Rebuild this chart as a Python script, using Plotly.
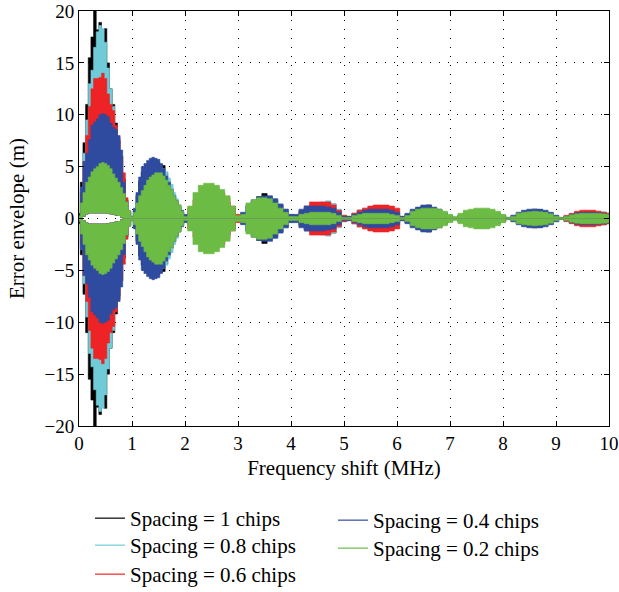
import numpy as np
import plotly.graph_objects as go

# Sampling grid of the frequency axis (MHz)
freq_a = np.round(np.arange(0, 2.0001, 0.05), 2)      # 0.00 .. 2.00 (41 points)
freq_b = np.round(np.arange(2.1, 10.0001, 0.1), 2)     # 2.1 .. 10.0 (80 points)
freq = list(freq_a) + list(freq_b)

# Error envelope amplitude (m) (symmetric about zero)
env_1_0 = [0.5, 3.5, 7.3, 11.0, 15.5, 17.5, 20.0, 18.2, 18.9, 18.0, 18.3, 15.0, 12.5, 11.0, 9.2, 7.5, 6.0, 3.8, 1.8, 0.7, 0.2,
           0.8, 2.2, 3.6, 4.5, 5.0, 5.2, 5.4, 5.5, 5.5, 5.4, 5.2, 5.1, 4.4, 3.6, 2.9, 2.2, 1.6, 1.1, 0.6, 0.3,
           0.5, 1.0, 1.5, 2.0, 2.2, 2.2, 2.0, 1.6, 1.0, 0.3,
           0.5, 1.2, 1.7, 2.1, 2.4, 2.1, 1.8, 1.3, 0.8, 0.3,
           0.2, 0.6, 1.0, 1.3, 1.4, 1.5, 1.5, 1.4, 0.8, 0.3,
           0.2, 0.5, 0.8, 0.9, 1.0, 1.0, 1.0, 1.0, 0.9, 0.7,
           0.2, 0.4, 0.8, 1.0, 1.2, 1.3, 1.0, 0.8, 0.5, 0.2,
           0.1, 0.3, 0.5, 0.6, 0.7, 0.7, 0.7, 0.6, 0.5, 0.3,
           0.1, 0.3, 0.5, 0.7, 0.8, 0.9, 0.85, 0.7, 0.5, 0.3,
           0.1, 0.2, 0.4, 0.55, 0.6, 0.65, 0.7, 0.6, 0.6, 0.5]

env_0_8 = [0.3, 3.0, 6.3, 9.5, 13.0, 14.3, 16.5, 18.0, 18.6, 18.3, 17.0, 14.5, 12.5, 10.8, 8.8, 7.2, 5.6, 3.6, 1.7, 0.6, 0.2,
           0.5, 1.5, 2.5, 3.2, 3.8, 4.2, 4.5, 4.7, 4.8, 4.9, 4.9, 4.8, 4.5, 3.9, 3.3, 2.5, 1.9, 1.3, 0.7, 0.2,
           0.5, 1.0, 1.5, 1.9, 2.1, 2.1, 1.9, 1.5, 0.9, 0.3,
           0.5, 1.2, 1.7, 2.0, 2.1, 2.1, 1.9, 1.4, 0.9, 0.4,
           0.3, 0.8, 1.2, 1.4, 1.5, 1.6, 1.7, 1.4, 0.9, 0.3,
           0.2, 0.5, 0.8, 1.0, 1.1, 1.2, 1.2, 1.2, 1.1, 0.9,
           0.2, 0.4, 0.8, 1.0, 1.1, 1.2, 1.0, 0.8, 0.5, 0.2,
           0.1, 0.3, 0.5, 0.6, 0.7, 0.7, 0.7, 0.6, 0.5, 0.3,
           0.1, 0.3, 0.5, 0.7, 0.8, 0.85, 0.8, 0.7, 0.5, 0.3,
           0.1, 0.3, 0.45, 0.6, 0.7, 0.75, 0.75, 0.7, 0.6, 0.5]

env_0_6 = [0.3, 2.5, 5.5, 8.0, 10.8, 12.5, 13.5, 13.5, 13.6, 14.0, 13.5, 12.0, 11.0, 10.4, 9.0, 7.8, 6.0, 4.4, 2.0, 0.6, 0.2,
           0.2, 0.4, 0.6, 0.8, 1.0, 1.1, 1.2, 1.2, 1.2, 1.1, 1.0, 0.9, 0.8, 0.7, 0.6, 0.5, 0.4, 0.3, 0.2, 0.1,
           1.0, 1.8, 2.4, 2.8, 2.9, 2.8, 2.5, 2.0, 1.2, 0.4,
           0.3, 0.6, 0.9, 1.1, 1.2, 1.2, 1.1, 0.9, 0.6, 0.3,
           0.3, 0.7, 1.2, 1.6, 1.6, 1.6, 1.6, 1.3, 0.8, 0.3,
           0.2, 0.5, 0.8, 1.0, 1.2, 1.3, 1.3, 1.3, 1.2, 1.0,
           0.2, 0.3, 0.4, 0.5, 0.5, 0.5, 0.5, 0.4, 0.3, 0.1,
           0.1, 0.3, 0.4, 0.5, 0.6, 0.6, 0.6, 0.5, 0.4, 0.2,
           0.1, 0.2, 0.3, 0.4, 0.4, 0.4, 0.4, 0.3, 0.2, 0.1,
           0.1, 0.3, 0.5, 0.7, 0.8, 0.8, 0.8, 0.7, 0.6, 0.5]

env_0_4 = [0.3, 3.0, 5.5, 6.3, 7.6, 9.0, 9.3, 9.6, 10.0, 10.1, 10.0, 9.8, 9.2, 8.8, 8.6, 8.0, 6.6, 3.5, 1.6, 0.7, 0.2,
           1.0, 2.5, 4.0, 5.0, 5.3, 5.6, 5.8, 5.9, 5.8, 5.7, 5.3, 4.8, 4.1, 3.5, 2.8, 2.2, 1.7, 1.3, 0.8, 0.4,
           0.2, 0.3, 0.3, 0.3, 0.3, 0.3, 0.3, 0.3, 0.2, 0.1,
           0.6, 1.3, 1.8, 2.1, 2.2, 2.2, 1.9, 1.4, 0.9, 0.4,
           0.4, 0.9, 1.2, 1.2, 1.2, 1.2, 1.1, 1.0, 0.6, 0.2,
           0.2, 0.4, 0.6, 0.8, 0.9, 0.9, 0.9, 0.9, 0.8, 0.6,
           0.2, 0.5, 0.9, 1.1, 1.3, 1.3, 1.1, 0.9, 0.6, 0.3,
           0.1, 0.3, 0.5, 0.6, 0.7, 0.7, 0.7, 0.6, 0.5, 0.3,
           0.1, 0.3, 0.6, 0.8, 0.9, 0.9, 0.9, 0.8, 0.6, 0.3,
           0.1, 0.2, 0.4, 0.55, 0.6, 0.6, 0.6, 0.55, 0.5, 0.4]

env_0_2 = [0.2, 1.5, 2.5, 3.5, 4.0, 4.5, 4.8, 5.0, 5.3, 5.4, 5.3, 5.1, 4.8, 4.3, 3.9, 3.5, 3.0, 2.4, 1.6, 0.8, 0.2,
           0.6, 1.5, 2.2, 2.7, 3.2, 3.7, 4.0, 4.2, 4.4, 4.4, 4.4, 4.1, 3.7, 3.2, 2.8, 2.2, 1.7, 1.3, 0.7, 0.2,
           1.2, 2.5, 3.2, 3.4, 3.4, 3.2, 2.8, 2.2, 1.2, 0.3,
           0.4, 1.5, 1.8, 2.0, 2.0, 1.9, 1.5, 1.0, 0.6, 0.2,
           0.2, 0.4, 0.5, 0.6, 0.6, 0.6, 0.6, 0.5, 0.3, 0.1,
           0.1, 0.3, 0.4, 0.5, 0.5, 0.5, 0.5, 0.5, 0.4, 0.3,
           0.1, 0.3, 0.7, 0.9, 1.0, 1.0, 1.0, 0.9, 0.7, 0.4,
           0.2, 0.5, 0.8, 0.9, 1.0, 1.0, 1.0, 0.9, 0.7, 0.4,
           0.1, 0.2, 0.5, 0.6, 0.65, 0.7, 0.65, 0.6, 0.45, 0.2,
           0.1, 0.2, 0.35, 0.45, 0.5, 0.5, 0.5, 0.5, 0.45, 0.4]

# Near-zero band never reached by the curves in the first lobe (0 - 2 MHz grid)
gap_lobe1 = [0, 0, 0.2, 0.4, 0.5, 0.5, 0.5, 0.5, 0.5, 0.5, 0.5, 0.45, 0.4, 0.35, 0.3, 0.25, 0.1, 0, 0, 0, 0,
             0, 0, 0, 0, 0, 0, 0, 0, 0, 0, 0, 0, 0, 0, 0, 0, 0, 0, 0, 0]

series_names = ["Spacing = 1 chips", "Spacing = 0.8 chips", "Spacing = 0.6 chips",
                "Spacing = 0.4 chips", "Spacing = 0.2 chips"]
series_env = [env_1_0, env_0_8, env_0_6, env_0_4, env_0_2]
series_colors = ["#000000", "#6fcbd8", "#ee2325", "#2f4b9f", "#6cbb45"]

y_ticks = [-20, -15, -10, -5, 0, 5, 10, 15, 20]
y_ticktext = ["\u221220", "\u221215", "\u221210", "\u22125", "0", "5", "10", "15", "20"]
x_ticks = [0, 1, 2, 3, 4, 5, 6, 7, 8, 9, 10]

inner = list(gap_lobe1) + [0.0] * len(freq_b)

FONT = "Liberation Serif"
W, H = 619, 592

# legend placement (one legend per entry: two columns like the original), container pixels
legend_ids = ["legend", "legend2", "legend3", "legend4", "legend5"]
legend_left_px = [90, 90, 90, 333, 333]
legend_top_px = [498, 525, 554, 500, 528]

fig = go.Figure()

# legend entries (plain line symbols)
for name, col, lg in zip(series_names, series_colors, legend_ids):
    fig.add_trace(go.Scatter(x=[None], y=[None], mode="lines", name=name, fill="none",
                             line=dict(color=col, width=1.2), legend=lg))

for name, env, col in zip(series_names, series_env, series_colors):
    env = np.array(env, dtype=float)
    inn = np.array(inner, dtype=float)
    common = dict(x=freq, mode="lines", showlegend=False, hoverinfo="skip")
    # upper band
    fig.add_trace(go.Scatter(y=inn, line=dict(color=col, width=0, shape="hvh"), **common))
    fig.add_trace(go.Scatter(y=env, fill="tonexty", fillcolor=col,
                             line=dict(color=col, width=0.6, shape="hvh"), **common))
    # lower band
    fig.add_trace(go.Scatter(y=-env, line=dict(color=col, width=0.6, shape="hvh"), **common))
    fig.add_trace(go.Scatter(y=-inn, fill="tonexty", fillcolor=col,
                             line=dict(color=col, width=0, shape="hvh"), **common))

axis_common = dict(
    showline=True, linecolor="black", linewidth=1, mirror="allticks",
    ticks="inside", ticklen=5, tickcolor="black", automargin=False,
    showgrid=True, gridcolor="black", gridwidth=1, griddash="1px,8px",
    zeroline=False, tickfont=dict(family=FONT, size=19, color="black"),
    ticklabeloverflow="allow",
)

legends = {}
for lg, lx, ly in zip(legend_ids, legend_left_px, legend_top_px):
    legends[lg] = dict(xref="container", yref="container", orientation="h",
                       x=lx / W, y=1 - ly / H,
                       xanchor="left", yanchor="top", bgcolor="rgba(0,0,0,0)",
                       font=dict(family=FONT, size=21), itemwidth=30)

fig.update_layout(
    width=W, height=H,
    margin=dict(l=79, r=10, t=11, b=166),
    paper_bgcolor="white", plot_bgcolor="white",
    font=dict(family=FONT, size=20, color="black"),
    xaxis=dict(range=[0, 10], tickvals=x_ticks,
               title=dict(text="Frequency shift (MHz)", font=dict(family=FONT, size=21), standoff=7),
               **axis_common),
    yaxis=dict(range=[-20, 20], tickvals=y_ticks, ticktext=y_ticktext,
               title=dict(text="Error envelope (m)", font=dict(family=FONT, size=21), standoff=14),
               **axis_common),
    **legends,
)

fig.write_html("out.html", config={"displayModeBar": False},
               post_script="document.body.style.margin='0px';")
